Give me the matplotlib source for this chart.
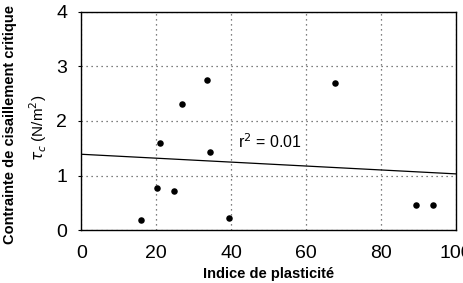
import matplotlib
matplotlib.use("Agg")
import matplotlib.pyplot as plt
import numpy as np

plt.rcParams['font.family'] = ['Liberation Sans', 'DejaVu Sans']

# Data
plasticity = [16.0, 20.2, 21.1, 24.7, 26.9, 33.5, 34.3, 39.4, 67.8, 89.2, 93.8]
tau_c = [0.18, 0.78, 1.60, 0.71, 2.32, 2.75, 1.43, 0.23, 2.70, 0.46, 0.46]
trend_x = [0, 100]
trend_y = [1.39, 1.03]
x_ticks = [0, 20, 40, 60, 80, 100]
y_ticks = [0, 1, 2, 3, 4]

fig = plt.figure(figsize=(4.64, 2.83), dpi=100)
ax = fig.add_axes([0.175, 0.187, 0.808, 0.771])

ax.plot(trend_x, trend_y, color='black', lw=0.9, zorder=2)
ax.scatter(plasticity, tau_c, s=22, color='black', zorder=3, linewidths=0)

ax.set_xlim(0, 100)
ax.set_ylim(0, 4)
ax.set_xticks(x_ticks)
ax.set_yticks(y_ticks)
ax.tick_params(axis='both', labelsize=14, width=0.8, direction='out')
ax.tick_params(axis='y', length=2.5, pad=7.5)
ax.tick_params(axis='x', length=0, pad=11)
ax.grid(True, linestyle=(0, (1, 3)), color='#555555', lw=0.9)
for sp in ax.spines.values():
    sp.set_linewidth(1.0)
    sp.set_color('black')

ax.text(41.8, 1.62, r'r$^2$ = 0.01', fontsize=11.5, va='center', ha='left')

ax.set_xlabel('Indice de plasticité', fontsize=10.5, fontweight='bold', labelpad=3)
fig.text(0.022, 0.56, 'Contrainte de cisaillement critique', rotation=90,
         fontsize=10.5, fontweight='bold', ha='center', va='center')
fig.text(0.082, 0.55, r'$\tau_c$ (N/m$^2$)', rotation=90, fontsize=11,
         ha='center', va='center')

fig.savefig('out.png', dpi=100)
